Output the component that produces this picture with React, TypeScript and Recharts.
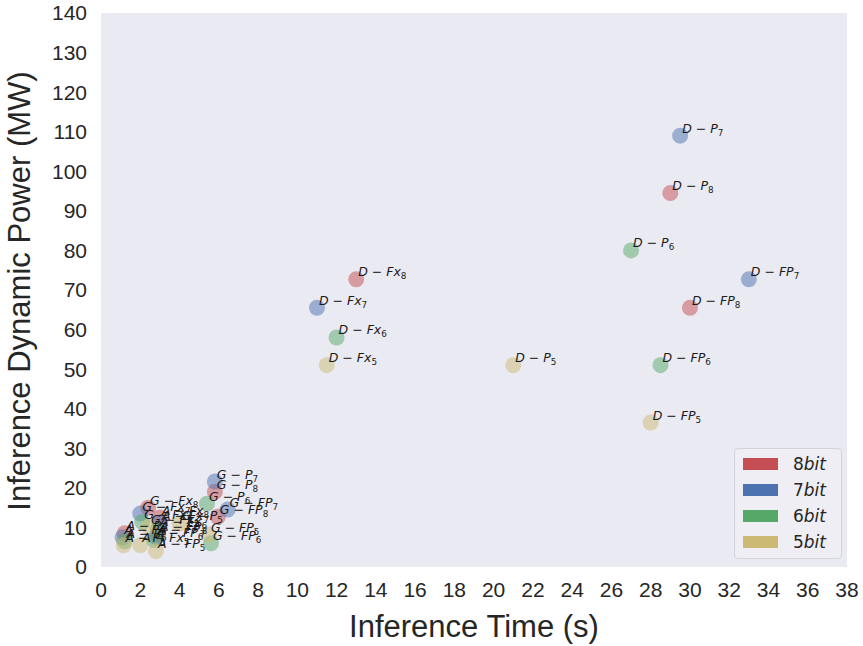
import React from "react"
import {
  ScatterChart,
  Scatter,
  XAxis,
  YAxis,
  CartesianGrid,
  Label,
} from "recharts"

// method labels (platform - representation), same order in every bit series
const methods = ["D-P", "D-FP", "D-Fx", "G-P", "G-FP", "G-Fx", "A-P", "A-FP", "A-Fx"]

// inference time (s) per method
const time8 = [29, 30, 13, 5.8, 5.95, 2.4, 1.2, 2.9, 3.0]
const time7 = [29.5, 33, 11, 5.8, 6.45, 2.0, 1.1, 2.8, 3.0]
const time6 = [27, 28.5, 12, 5.4, 5.6, 2.1, 1.2, 2.7, 2.9]
const time5 = [21, 28, 11.5, 4.0, 5.5, 2.45, 1.15, 2.8, 2.0]

// inference dynamic power (MW) per method
const power8 = [94.5, 65.5, 72.7, 19, 12.7, 15, 8.5, 8.3, 12.5]
const power7 = [109, 72.7, 65.5, 21.6, 14.5, 13.5, 7.5, 7.6, 11.2]
const power6 = [80, 51, 58, 16, 6, 11.4, 6.5, 6.8, 9.6]
const power5 = [51, 36.5, 51, 11, 8.2, 10.2, 5.5, 4.0, 5.5]

const xTicks = [0, 2, 4, 6, 8, 10, 12, 14, 16, 18, 20, 22, 24, 26, 28, 30, 32, 34, 36, 38]
const yTicks = [0, 10, 20, 30, 40, 50, 60, 70, 80, 90, 100, 110, 120, 130, 140]

const bits = [8, 7, 6, 5]
const colors = ["#C44E52", "#4C72B0", "#55A868", "#CCB974"]

const build = (bit: number, xs: number[], ys: number[]) =>
  methods.map((m, i) => ({ name: m, bit, x: xs[i], y: ys[i] }))

const series = [
  build(8, time8, power8),
  build(7, time7, power7),
  build(6, time6, power6),
  build(5, time5, power5),
]
const allPoints = series.flat()

const FONT = "Liberation Sans, Arial, sans-serif"
const TICK = { fontSize: 21, fill: "#262626", fontFamily: FONT }

const dot = (color: string) => (props: any) =>
  <circle cx={props.cx} cy={props.cy} r={8} fill={color} fillOpacity={0.5} />

const PointLabel = (props: any) => {
  const { cx, cy, payload } = props
  const [p, k] = payload.name.split("-")
  return (
    <text x={cx + 2} y={cy - 3} fontFamily="DejaVu Sans" fontSize={12.5} fill="#1a1a1a">
      <tspan fontStyle="italic">{p}</tspan>
      <tspan> − </tspan>
      <tspan fontStyle="italic">{k}</tspan>
      <tspan fontSize={8.8} dy={3}>{payload.bit}</tspan>
    </text>
  )
}

// legend drawn over the plot, lower right, like matplotlib's
const LegendBox = () => (
  <div
    style={{
      position: "absolute",
      left: 734,
      top: 448,
      width: 108,
      boxSizing: "border-box",
      padding: "2px 0 3px 8px",
      background: "#EEEEF4",
      border: "1px solid #D2D2DA",
      borderRadius: 4,
      fontFamily: "DejaVu Sans",
      fontSize: 17,
      color: "#262626",
    }}
  >
    {bits.map((b, i) => (
      <div key={b} style={{ height: 26, display: "flex", alignItems: "center" }}>
        <span style={{ width: 35, height: 12, background: colors[i], display: "inline-block" }} />
        <span style={{ marginLeft: 15 }}>
          {b}
          <i>bit</i>
        </span>
      </div>
    ))}
  </div>
)

export default function App() {
  return (
    <div style={{ position: "absolute", left: 0, top: 0, width: 863, height: 646, background: "#fff" }}>
      <ScatterChart width={863} height={646} margin={{ top: 13, right: 16, bottom: 0, left: 0 }}>
        <CartesianGrid horizontal={false} vertical={false} fill="#EAEAF2" stroke="none" />
        <XAxis
          type="number"
          dataKey="x"
          domain={[0, 38]}
          ticks={xTicks}
          interval={0}
          axisLine={false}
          tickLine={false}
          tickMargin={9}
          height={79}
          tick={TICK}
        >
          <Label
            value="Inference Time (s)"
            position="insideBottom"
            offset={9}
            style={{ fontSize: 31, fill: "#262626", fontFamily: FONT }}
          />
        </XAxis>
        <YAxis
          type="number"
          dataKey="y"
          domain={[0, 140]}
          ticks={yTicks}
          interval={0}
          axisLine={false}
          tickLine={false}
          tickMargin={8}
          width={101}
          tick={TICK}
        >
          <Label
            content={() => (
              <text
                x={30}
                y={291}
                transform="rotate(-90, 30, 291)"
                textAnchor="middle"
                fontSize={31}
                fill="#262626"
                fontFamily={FONT}
              >
                Inference Dynamic Power (MW)
              </text>
            )}
          />
        </YAxis>
        {series.map((s, i) => (
          <Scatter
            key={bits[i]}
            name={`${bits[i]}bit`}
            data={s}
            shape={dot(colors[i])}
            isAnimationActive={false}
          />
        ))}
        <Scatter data={allPoints} shape={PointLabel} legendType="none" isAnimationActive={false} />
      </ScatterChart>
      <LegendBox />
    </div>
  )
}
